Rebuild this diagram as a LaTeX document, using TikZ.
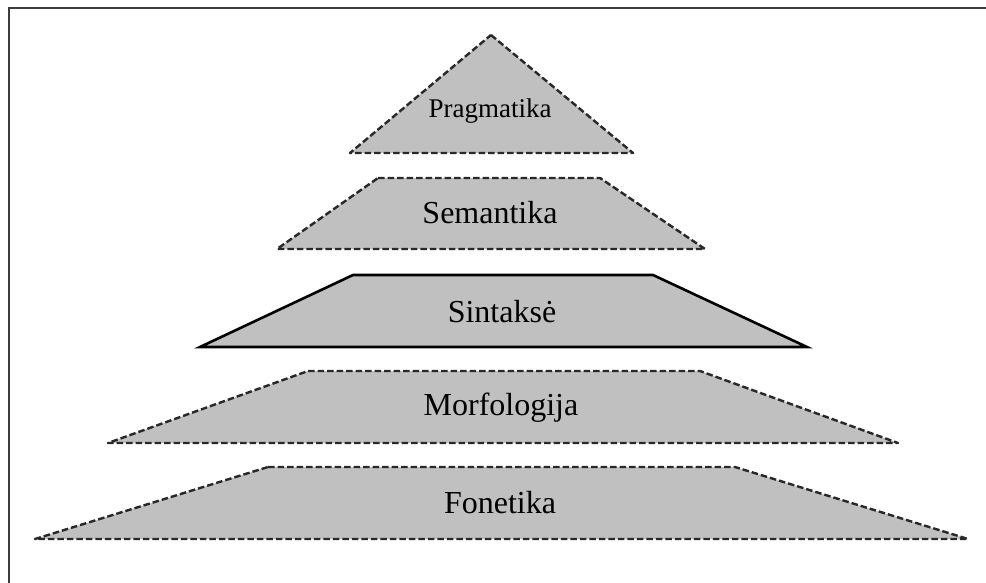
\documentclass[tikz,border=0pt]{standalone}
\usepackage{fontspec}
\setmainfont{Liberation Serif}
\begin{document}
\begin{tikzpicture}[x=1pt,y=-1pt,
  layer/.style={fill=levelgray, draw=edgegray, line width=2.4pt, dash pattern=on 6.5pt off 3pt, line join=round},
  core/.style={fill=levelgray, draw=black, line width=2.6pt, line join=miter},
  lbl/.style={font=\fontsize{32}{38}\selectfont, inner sep=0pt, anchor=center},
  toplbl/.style={font=\fontsize{27}{32}\selectfont, inner sep=0pt, anchor=center}]
\definecolor{levelgray}{RGB}{192,192,192}
\definecolor{edgegray}{RGB}{40,40,40}
\definecolor{framegray}{RGB}{60,60,60}
\useasboundingbox (0,0) rectangle (986,583);
\fill[white] (0,0) rectangle (986,583);
% outer frame (only top and left edges fall inside the page)
\draw[framegray, line width=1.5pt] (9,583) -- (9,8) -- (986,8);

% levels of the language pyramid, from top to bottom
\draw[layer] (491,35) -- (633,153) -- (350,153) -- cycle;
\node[toplbl] (prag) at (490,111) {Pragmatika};

\draw[layer] (378,178) -- (600,178) -- (705,249) -- (277,249) -- cycle;
\node[lbl] (sem) at (490,213) {Semantika};

\draw[core] (353,275) -- (653,275) -- (807,347) -- (200,347) -- cycle;
\node[lbl] (sin) at (502,312) {Sintaksė};

\draw[layer] (308,371) -- (700,371) -- (898,443) -- (108,443) -- cycle;
\node[lbl] (mor) at (501,408) {Morfologija};

\draw[layer] (268,467) -- (735,467) -- (968,539) -- (35,539) -- cycle;
\node[lbl] (fon) at (500,503) {Fonetika};
\end{tikzpicture}
\end{document}
